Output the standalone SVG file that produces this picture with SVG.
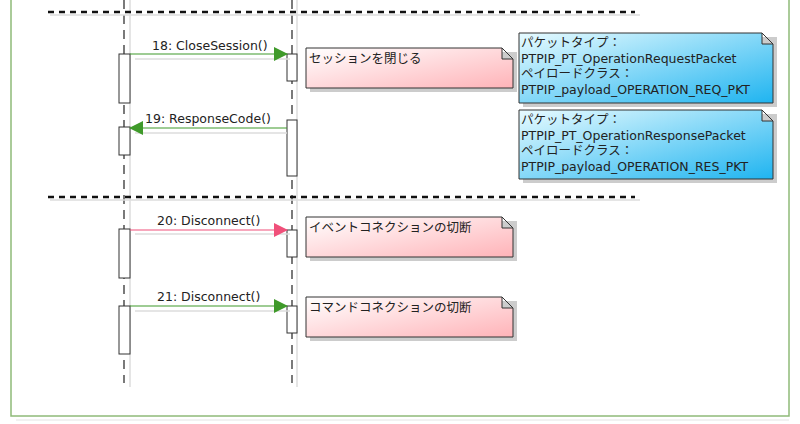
<svg xmlns="http://www.w3.org/2000/svg" width="800" height="424" viewBox="0 0 800 424">
<defs>
<linearGradient id="pk" x1="0" y1="0" x2="1" y2="1"><stop offset="0" stop-color="#ffffff"/><stop offset="1" stop-color="#ffb3b8"/></linearGradient>
<linearGradient id="bl" x1="0" y1="0" x2="1" y2="1"><stop offset="0" stop-color="#e8fbff"/><stop offset="1" stop-color="#1fb4f0"/></linearGradient>
<marker id="ag" markerWidth="14" markerHeight="14" refX="13" refY="7" orient="auto" markerUnits="userSpaceOnUse"><path d="M0,0 L14,7 L0,14 Z" fill="#3f9a2a"/></marker>
<marker id="ap" markerWidth="14" markerHeight="14" refX="13" refY="7" orient="auto" markerUnits="userSpaceOnUse"><path d="M0,0 L14,7 L0,14 Z" fill="#f0507a"/></marker>
</defs>
<style>
text{font-family:"DejaVu Sans","Noto Sans CJK JP",sans-serif;font-size:12.5px;fill:#222}
.ll{stroke:#222;stroke-dasharray:9,6;stroke-width:1.2}
.sh{stroke:#ddd;stroke-width:1.5}
.act{fill:#fff;stroke:#333;stroke-width:1}
.sep{stroke:#111;stroke-width:2.5;stroke-dasharray:6,5}
.note{stroke:#333;stroke-width:1}
.nsh{fill:#ccc}
</style>
<rect x="0" y="0" width="800" height="424" fill="#fff"/>
<rect x="11" y="-5" width="778" height="421" fill="none" stroke="#8fba78" stroke-width="1.5"/>
<line x1="16" y1="420" x2="789" y2="420" stroke="#e4e4e4"/>
<line x1="130" y1="0" x2="130" y2="387" class="sh"/>
<line x1="297" y1="0" x2="297" y2="387" class="sh"/>
<line x1="124" y1="0" x2="124" y2="383" class="ll"/>
<line x1="292" y1="0" x2="292" y2="383" class="ll"/>
<line x1="50" y1="15" x2="640" y2="15" class="sh"/>
<line x1="48" y1="12" x2="635" y2="12" class="sep"/>
<line x1="50" y1="200" x2="640" y2="200" class="sh"/>
<line x1="48" y1="197" x2="635" y2="197" class="sep"/>
<g id="activations">
<rect class="act" x="119" y="54" width="11" height="49"/>
<rect class="act" x="119" y="127" width="11" height="28"/>
<rect class="act" x="119" y="229" width="11" height="49"/>
<rect class="act" x="119" y="306" width="11" height="48"/>
<rect class="act" x="287" y="54" width="10" height="27"/>
<rect class="act" x="287" y="120" width="10" height="56"/>
<rect class="act" x="287" y="230" width="10" height="27"/>
<rect class="act" x="287" y="306" width="10" height="27"/>
</g>
<g id="connectors">
<line x1="135" y1="59" x2="290" y2="59" class="sh"/>
<line x1="130" y1="54" x2="287" y2="54" stroke="#3f9a2a" stroke-width="1.2" marker-end="url(#ag)"/>
<text x="152" y="50">18: CloseSession()</text>
<line x1="287" y1="133" x2="135" y2="133" class="sh"/>
<line x1="287" y1="128" x2="130" y2="128" stroke="#3f9a2a" stroke-width="1.2" marker-end="url(#ag)"/>
<text x="145" y="123">19: ResponseCode()</text>
<line x1="135" y1="234" x2="290" y2="234" class="sh"/>
<line x1="130" y1="230" x2="287" y2="230" stroke="#f0507a" stroke-width="1.2" marker-end="url(#ap)"/>
<text x="157" y="225">20: Disconnect()</text>
<line x1="135" y1="311" x2="290" y2="311" class="sh"/>
<line x1="130" y1="306" x2="287" y2="306" stroke="#3f9a2a" stroke-width="1.2" marker-end="url(#ag)"/>
<text x="157" y="301">21: Disconnect()</text>
</g>
<g id="note1">
<rect class="nsh" x="310" y="52" width="207" height="40"/>
<path class="note" fill="url(#pk)" d="M306,48 H502 L513,59 V88 H306 Z M502,48 V59 H513"/>
<text x="309" y="63">セッションを閉じる</text>
</g>
<g id="note2">
<rect class="nsh" x="523" y="37" width="254" height="70"/>
<path class="note" fill="url(#bl)" d="M519,33 H762 L773,44 V103 H519 Z M762,33 V44 H773"/>
<text x="521" y="47">パケットタイプ：</text>
<text x="521" y="63">PTPIP_PT_OperationRequestPacket</text>
<text x="521" y="78">ペイロードクラス：</text>
<text x="521" y="94">PTPIP_payload_OPERATION_REQ_PKT</text>
</g>
<g id="note3">
<rect class="nsh" x="523" y="114" width="254" height="69"/>
<path class="note" fill="url(#bl)" d="M519,110 H762 L773,121 V179 H519 Z M762,110 V121 H773"/>
<text x="521" y="124">パケットタイプ：</text>
<text x="521" y="140">PTPIP_PT_OperationResponsePacket</text>
<text x="521" y="155">ペイロードクラス：</text>
<text x="521" y="171">PTPIP_payload_OPERATION_RES_PKT</text>
</g>
<g id="note4">
<rect class="nsh" x="310" y="221" width="207" height="40"/>
<path class="note" fill="url(#pk)" d="M306,217 H502 L513,228 V257 H306 Z M502,217 V228 H513"/>
<text x="309" y="232">イベントコネクションの切断</text>
</g>
<g id="note5">
<rect class="nsh" x="310" y="301" width="207" height="40"/>
<path class="note" fill="url(#pk)" d="M306,297 H502 L513,308 V337 H306 Z M502,297 V308 H513"/>
<text x="309" y="312">コマンドコネクションの切断</text>
</g>
</svg>
